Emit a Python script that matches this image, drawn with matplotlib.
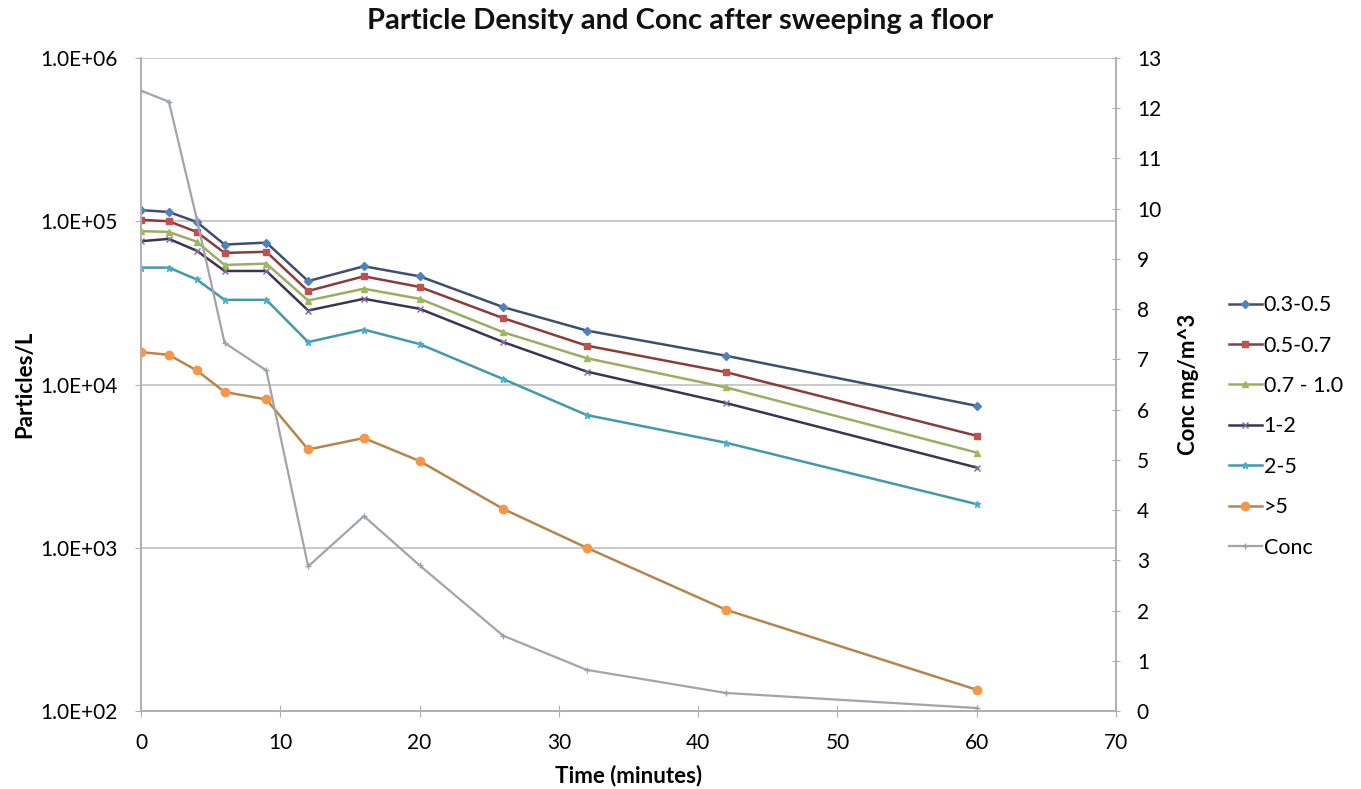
import matplotlib.pyplot as plt
from matplotlib.ticker import FuncFormatter, MultipleLocator, LogLocator, NullLocator

plt.rcParams['font.family'] = ['Lato', 'DejaVu Sans']

# time points (minutes)
time_min = [0, 2, 4, 6, 9, 12, 16, 20, 26, 32, 42, 60]

# particle counts per litre by size band (um)
p_03_05 = [117000, 114000, 99000, 72000, 74000, 43000, 53000, 46000, 29800, 21400, 15000, 7400]
p_05_07 = [102000, 100000, 86000, 64000, 65000, 37400, 46000, 39600, 25500, 17300, 11900, 4850]
p_07_10 = [87000, 86000, 75000, 54000, 55000, 32700, 38600, 33500, 20900, 14500, 9600, 3830]
p_1_2 = [75500, 78000, 66000, 49600, 49600, 28400, 33500, 29100, 18200, 12000, 7700, 3100]
p_2_5 = [52000, 52000, 44000, 33000, 33000, 18200, 21700, 17700, 10800, 6500, 4400, 1850]
p_gt5 = [15800, 15200, 12200, 9000, 8100, 4000, 4700, 3400, 1730, 1000, 417, 135]

# mass concentration mg/m^3
conc = [12.35, 12.13, 9.8, 7.33, 6.78, 2.88, 3.88, 2.9, 1.5, 0.82, 0.36, 0.06]

series = [
    ('0.3-0.5', p_03_05, '#3f4d6e', 'D', '#4f81bd', 4),
    ('0.5-0.7', p_05_07, '#8a3b3a', 's', '#c0504d', 5),
    ('0.7 - 1.0', p_07_10, '#9aae62', '^', '#9bbb59', 5),
    ('1-2', p_1_2, '#3c3450', 'x', '#8064a2', 5),
    ('2-5', p_2_5, '#3f9aab', '*', '#4bacc6', 5),
    ('>5', p_gt5, '#b5864c', 'o', '#f79646', 6),
]

fig, ax1 = plt.subplots(figsize=(13.61, 7.89), dpi=100)
fig.subplots_adjust(left=0.1036, right=0.8200, top=0.9265, bottom=0.0988)

handles = []
for label, vals, lc, mk, mc, ms in series:
    h, = ax1.plot(time_min, vals, color=lc, lw=1.8, marker=mk, markersize=ms,
                  markerfacecolor=mc, markeredgecolor=mc, label=label)
    handles.append(h)

ax1.set_yscale('log')
ax1.set_ylim(1e2, 1e6)
ax1.set_xlim(0, 70)
ax1.xaxis.set_major_locator(MultipleLocator(10))
ax1.yaxis.set_major_locator(LogLocator(base=10, numticks=10))
ax1.yaxis.set_minor_locator(NullLocator())
ax1.yaxis.set_major_formatter(FuncFormatter(lambda v, p: '%.1E' % v))
ax1.grid(axis='y', color='#c0c0c0', lw=1.2)
ax1.set_axisbelow(True)

ax2 = ax1.twinx()
h, = ax2.plot(time_min, conc, color='#a3a3ab', lw=1.6, marker='+', markersize=4,
              markeredgecolor='#9aa0b0', label='Conc')
handles.append(h)
ax2.set_ylim(0, 13)
ax2.yaxis.set_major_locator(MultipleLocator(1))

for ax in (ax1, ax2):
    for s in ax.spines.values():
        s.set_color('#b0b0b0')
        s.set_linewidth(1.2)
    ax.spines['top'].set_visible(False)
    ax.tick_params(labelsize=15, colors='#b0b0b0', labelcolor='black')
ax1.tick_params(axis='x', direction='inout', length=8, pad=12)
ax1.tick_params(axis='y', direction='out', length=4.5, pad=12)
ax2.tick_params(axis='y', direction='inout', length=6, pad=12)

ax1.set_xlabel('Time (minutes)', fontsize=16, fontweight='bold', labelpad=8)
ax1.set_ylabel('Particles/L', fontsize=16, fontweight='bold', labelpad=4)
ax2.set_ylabel('Conc mg/m^3', fontsize=16, fontweight='bold', labelpad=12)

# chart title is centred on the whole figure, as in the spreadsheet original
fig.text(0.5, 0.973, 'Particle Density and Conc after sweeping a floor', fontsize=21,
         fontweight='bold', color='#111111', ha='center', va='center')

fig.legend(handles=handles, loc='center left', bbox_to_anchor=(0.889, 0.4595),
           frameon=False, fontsize=15.5, handlelength=1.5, handletextpad=0.1,
           labelspacing=0.95)

plt.savefig('out.png', dpi=100)
